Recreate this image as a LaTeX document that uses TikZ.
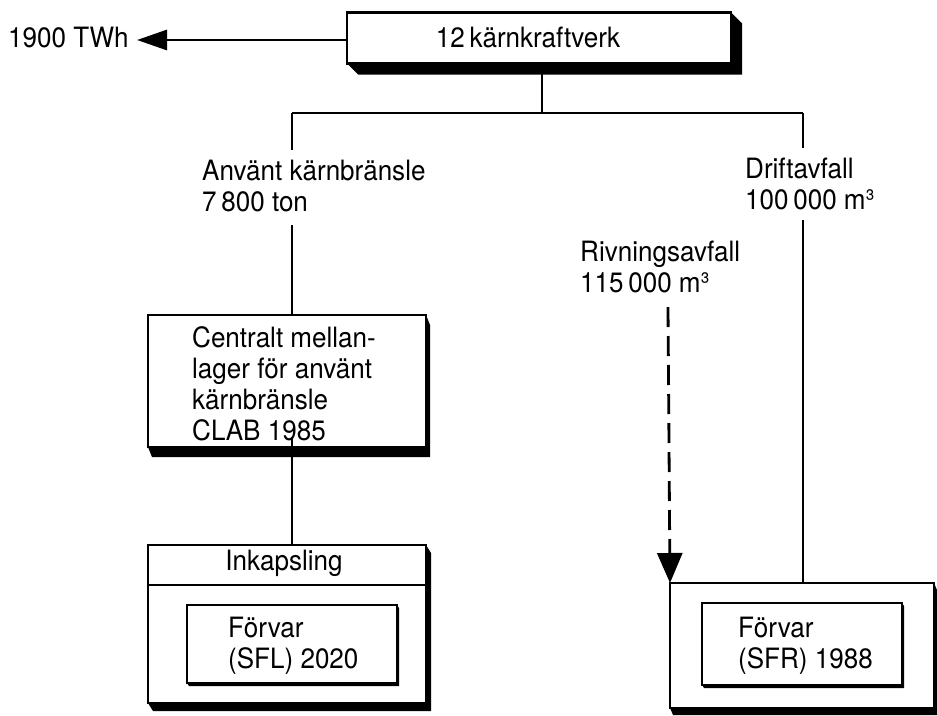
\documentclass[tikz,border=0pt]{standalone}
\usepackage{fontspec}
\setmainfont[FakeStretch=0.93]{TeX Gyre Heros}
\usetikzlibrary{arrows.meta}
\newcommand\boxshadow[3]{\fill (#1.south west) -- ++(#2,#3) -- ([shift={(#2,#3)}]#1.south east) -- ([shift={(#2,#3)}]#1.north east) -- (#1.north east) -- (#1.south east) -- cycle;}
\tikzset{
  txt/.style={font=\fontsize{28}{31}\selectfont, align=left, inner sep=0pt, anchor=base west},
  frame/.style={draw, line width=2.8pt, fill=white, inner sep=0pt, outer sep=0pt},
  conn/.style={line width=2.8pt},
  dconn/.style={line width=2.8pt, dash pattern=on 20pt off 9pt},
}
\begin{document}
\begin{tikzpicture}[x=1pt,y=-1pt]
\useasboundingbox (0,0) rectangle (937,715);
% top box
\node[frame, minimum width=384pt, minimum height=51pt] (top) at (539,38) {};
\boxshadow{top}{11}{11}
\node[txt, anchor=base] (toptxt) at (528,47) {12\,kärnkraftverk};
\node[txt, anchor=base west] (twh) at (8,47) {1900 TWh};
\coordinate (arrtip) at (137,40);
\draw[conn, -{Triangle[length=30pt, width=20pt]}] (top.west |- arrtip) -- (arrtip);
% branches
\coordinate (stem) at (542,113);
\coordinate (jl) at (292,113);
\coordinate (jr) at (803,113);
\draw[conn] (stem |- top.south) -- (stem);
\draw[conn] (jl) -- (jr);
\node[txt] (anv) at (202,211) {Använt kärnbränsle\\7\,800 ton};
\node[txt] (drift) at (745,209) {Driftavfall\\100\,000 m³};
\node[txt] (riv) at (580,292) {Rivningsavfall\\115\,000 m³};
\coordinate (la) at (292,150);
\coordinate (lb) at (292,225);
\coordinate (ra) at (803,148);
\coordinate (rb) at (803,220);
\draw[conn] (jl) -- (la);
\draw[conn] (jr) -- (ra);
% CLAB
\node[frame, minimum width=278pt, minimum height=132pt] (clab) at (287,381) {};
\boxshadow{clab}{4}{10}
\node[txt] (clabtxt) at (192,440) {Centralt mellan-\\lager för använt\\kärnbränsle\\CLAB 1985};
\draw[conn] (lb) -- (clab.north -| lb);
% Inkapsling
\node[frame, minimum width=278pt, minimum height=158pt] (ink) at (287,624) {};
\boxshadow{ink}{5}{8}
\coordinate (divl) at (148,585);
\draw[conn] (divl) -- (divl -| ink.east);
\node[txt, anchor=base] (inktxt) at (284,570) {Inkapsling};
\node[frame, minimum width=210pt, minimum height=78pt] (sfl) at (292,644) {};
\boxshadow{sfl}{2}{3}
\node[txt] (sfltxt) at (228,668) {Förvar\\(SFL) 2020};
\draw[conn] ([yshift=10pt]clab.south -| lb) -- (ink.north -| lb);
% right bottom
\node[frame, minimum width=264pt, minimum height=125pt] (sfrbox) at (802,645.5) {};
\boxshadow{sfrbox}{3}{7}
\node[frame, minimum width=200pt, minimum height=82pt] (sfr) at (802,644) {};
\boxshadow{sfr}{2}{3}
\node[txt] (sfrtxt) at (738,668) {Förvar\\(SFR) 1988};
\draw[conn] (rb) -- (sfrbox.north -| rb);
\coordinate (da) at (668,307);
\draw[dconn, -{Triangle[length=30pt, width=25pt]}] (da) -- (sfrbox.north west);
\end{tikzpicture}
\end{document}
